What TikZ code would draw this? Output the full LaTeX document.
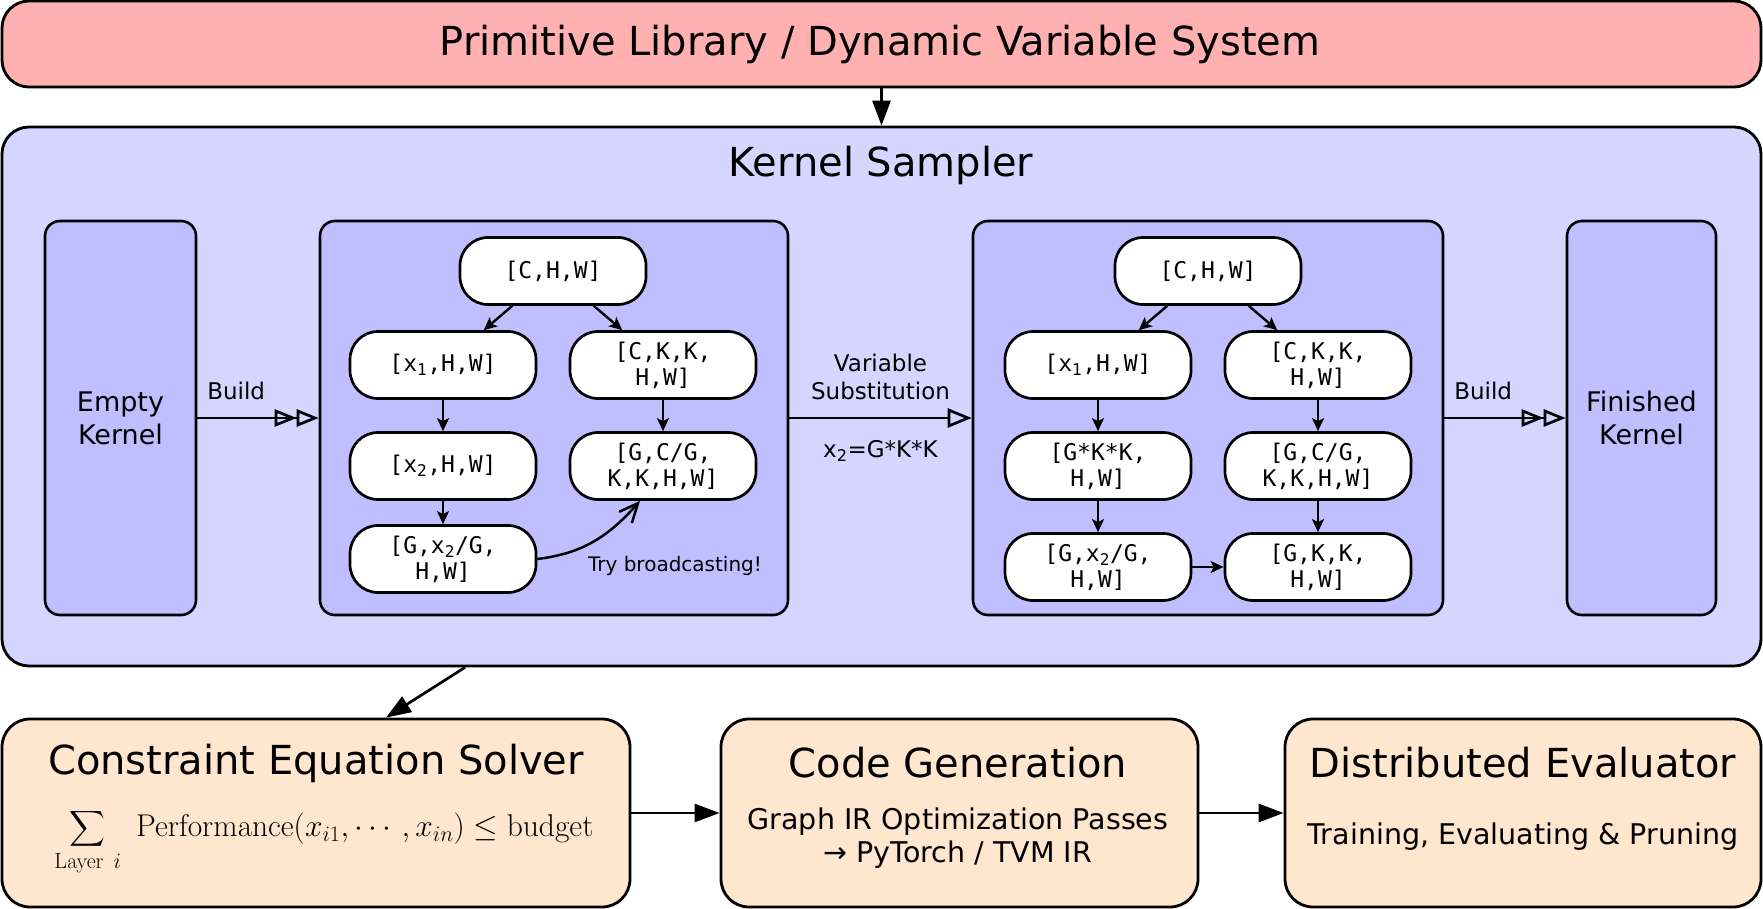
\RequirePackage{fix-cm}
\documentclass[tikz,border=0pt]{standalone}
\usepackage{amsmath}
\usepackage[no-math]{fontspec}
\setmainfont{DejaVu Sans}
\setmonofont{DejaVu Sans Mono}
\usetikzlibrary{arrows.meta}
\definecolor{topred}{RGB}{255,176,176}
\definecolor{ksfill}{RGB}{213,213,255}
\definecolor{panelfill}{RGB}{191,191,255}
\definecolor{botfill}{RGB}{255,230,206}
\begin{document}
\begin{tikzpicture}[x=1pt,y=-1pt,
  bigbox/.style={draw, line width=2.8pt, rectangle, rounded corners=27pt, inner sep=0pt},
  midbox/.style={draw, line width=2.6pt, rectangle, rounded corners=15pt, inner sep=0pt, fill=panelfill},
  tnode/.style={draw, fill=white, line width=2.7pt, rounded corners=28pt, minimum width=186pt, minimum height=67pt, inner sep=0pt, align=center, font=\ttfamily\fontsize{23}{26}\selectfont},
  smallarrow/.style={-{Stealth[length=13pt,width=12pt,inset=3pt]}, line width=2.4pt},
  mainarrow/.style={-{Triangle[length=25pt,width=18pt]}, line width=2.7pt},
  dblarrow/.style={-{Triangle[open,length=22pt,width=17pt]Triangle[open,length=22pt,width=17pt]}, line width=2.7pt},
  singlearrow/.style={-{Triangle[open,length=24pt,width=19pt]}, line width=2.7pt},
  lbl/.style={inner sep=0pt, font=\fontsize{23}{28}\selectfont, align=center},
  bigtext/.style={inner sep=0pt, font=\fontsize{40}{48}\selectfont},
  subtext/.style={inner sep=0pt, font=\fontsize{28.5}{33}\selectfont, align=center},
  kerntext/.style={inner sep=0pt, font=\fontsize{27}{33}\selectfont, align=center}
]
\useasboundingbox (0,0) rectangle (1763,909);

% top box
\node[bigbox, fill=topred, minimum width=1759pt, minimum height=86pt] (top) at (881.5,44) {};
\node[bigtext] (toptitle) at (880,44) {Primitive Library / Dynamic Variable System};

% kernel sampler
\node[bigbox, fill=ksfill, minimum width=1759pt, minimum height=539pt] (ks) at (881.5,396.5) {};
\node[bigtext] (kstitle) at (881,165) {Kernel Sampler};

\draw[mainarrow] (top.south) -- (ks.north);

% side boxes
\node[midbox, minimum width=151pt, minimum height=394pt, kerntext] (empty) at (120.5,418) {Empty\\Kernel};
\node[midbox, minimum width=149pt, minimum height=394pt, kerntext] (finished) at (1641.5,418) {Finished\\Kernel};

% panels
\node[midbox, minimum width=468pt, minimum height=394pt] (lp) at (554,418) {};
\node[midbox, minimum width=470pt, minimum height=394pt] (rp) at (1208,418) {};

% left panel nodes
\node[tnode] (lt) at (553,271) {[C,H,W]};
\node[tnode] (lx1) at (443,365) {[x\textsubscript{1},H,W]};
\node[tnode] (lck) at (663,365) {[C,K,K,\\H,W]};
\node[tnode] (lx2) at (443,466) {[x\textsubscript{2},H,W]};
\node[tnode] (lgcg) at (663,466) {[G,C/G,\\K,K,H,W]};
\node[tnode] (lgx2) at (443,559) {[G,x\textsubscript{2}/G,\\H,W]};

\draw[smallarrow] (lt) -- (lx1);
\draw[smallarrow] (lt) -- (lck);
\draw[smallarrow] (lx1) -- (lx2);
\draw[smallarrow] (lx2) -- (lgx2);
\draw[smallarrow] (lck) -- (lgcg);
\draw[-{Straight Barb[length=19pt,width=17pt]}, line width=2.5pt] (lgx2.east) .. controls +(40,-5) and +(-35,40) .. ([xshift=-23pt]lgcg.south);
\node[inner sep=0pt, font=\fontsize{20}{24}\selectfont] (try) at (675,566) {Try broadcasting!};

% right panel nodes
\node[tnode] (rt) at (1208,271) {[C,H,W]};
\node[tnode] (rx1) at (1098,365) {[x\textsubscript{1},H,W]};
\node[tnode] (rck) at (1318,365) {[C,K,K,\\H,W]};
\node[tnode] (rgkk) at (1098,466) {[G*K*K,\\H,W]};
\node[tnode] (rgcg) at (1318,466) {[G,C/G,\\K,K,H,W]};
\node[tnode] (rgx2) at (1098,567) {[G,x\textsubscript{2}/G,\\H,W]};
\node[tnode] (rgk) at (1318,567) {[G,K,K,\\H,W]};

\draw[smallarrow] (rt) -- (rx1);
\draw[smallarrow] (rt) -- (rck);
\draw[smallarrow] (rx1) -- (rgkk);
\draw[smallarrow] (rgkk) -- (rgx2);
\draw[smallarrow] (rck) -- (rgcg);
\draw[smallarrow] (rgcg) -- (rgk);
\draw[smallarrow] (rgx2) -- (rgk);

% build arrows
\draw[dblarrow] (empty.east) -- node[lbl, pos=0.32, anchor=south, yshift=17pt] (b1) {Build} (lp.west);
\draw[singlearrow] (lp.east) -- node[lbl, pos=0.5, anchor=south, yshift=17pt] (vs) {Variable\\Substitution}
  node[lbl, pos=0.5, anchor=north, yshift=-21pt] (vx) {x\textsubscript{2}=G*K*K} (rp.west);
\draw[dblarrow] (rp.east) -- node[lbl, pos=0.32, anchor=south, yshift=17pt] (b2) {Build} (finished.west);

% bottom boxes
\node[bigbox, fill=botfill, rounded corners=28pt, minimum width=628pt, minimum height=188pt] (cons) at (316,813) {};
\node[bigbox, fill=botfill, rounded corners=28pt, minimum width=477pt, minimum height=188pt] (code) at (959.5,813) {};
\node[bigbox, fill=botfill, rounded corners=28pt, minimum width=476pt, minimum height=188pt] (dist) at (1523,813) {};

\node[bigtext] (constitle) at (316,763) {Constraint Equation Solver};
\node[inner sep=0pt, font=\fontsize{31.5}{38}\selectfont] (formula) at (324,842)
  {$\displaystyle\sum_{\mathrm{Layer}\ i}\ \mathrm{Performance}(x_{i1},\cdots,x_{in})\le\mathrm{budget}$};

\node[bigtext] (codetitle) at (958,763) {Code Generation};
\node[subtext] (codesub) at (958,838) {Graph IR Optimization Passes\\→ PyTorch / TVM IR};

\node[bigtext] (disttitle) at (1523,763) {Distributed Evaluator};
\node[subtext] (distsub) at (1523,837) {Training, Evaluating \& Pruning};

\draw[mainarrow] ([xshift=-416.5pt]ks.south) -- ([xshift=70pt]cons.north);
\draw[mainarrow] (cons.east) -- (code.west);
\draw[mainarrow] (code.east) -- (dist.west);
\end{tikzpicture}
\end{document}
